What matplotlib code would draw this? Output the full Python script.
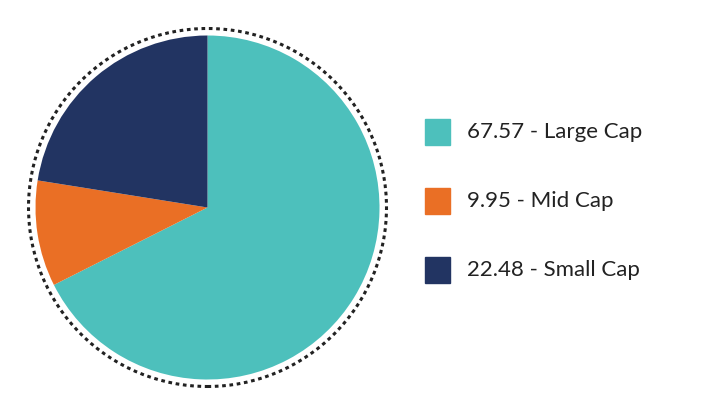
import matplotlib.pyplot as plt
from matplotlib.patches import Circle, Rectangle

labels = ['Large Cap', 'Mid Cap', 'Small Cap']
values = [67.57, 9.95, 22.48]
colors = ['#4DC0BC', '#EA6F25', '#223462']

fig = plt.figure(figsize=(7.28, 4.15), dpi=100)
ax = fig.add_axes([0, 0, 415 / 728, 1])
ax.set_xlim(-207.5, 207.5)
ax.set_ylim(-207.5, 207.5)
ax.set_aspect('equal')
ax.axis('off')

ax.pie(values, colors=colors, startangle=90, counterclock=False, radius=172,
       center=(0, 0), frame=True, wedgeprops=dict(linewidth=0))
ax.set_xlim(-207.5, 207.5)
ax.set_ylim(-207.5, 207.5)
ax.axis('off')
ax.add_patch(Circle((0, 0), 179, fill=False, edgecolor='#222222',
                    linewidth=2.2, linestyle=(0, (1.2, 1.2))))

# legend
for i, (lab, val, col) in enumerate(zip(labels, values, colors)):
    y = 1 - (132 + i * 69) / 415
    fig.patches.append(Rectangle((425 / 728, y - 13 / 415), 25 / 728, 26 / 415,
                                 transform=fig.transFigure, color=col))
    fig.text(467 / 728, y, f'{val:.2f} - {lab}', fontsize=16, family='Lato',
             color='#222222', va='center', ha='left')

fig.savefig('out.png', dpi=100)
